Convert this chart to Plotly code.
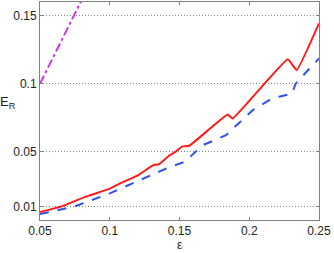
import plotly.graph_objects as go

# Red solid curve
red_eps = [0.05, 0.0655, 0.082, 0.1, 0.1071, 0.1202, 0.1309, 0.1352, 0.1429, 0.1476, 0.1521, 0.157,
           0.1845, 0.1881, 0.2276, 0.234, 0.25]
red_val = [0.0058, 0.010, 0.0168, 0.023, 0.0267, 0.0328, 0.0401, 0.0409, 0.0475, 0.0504, 0.054, 0.0545,
           0.0774, 0.0745, 0.1179, 0.110, 0.1443]

# Blue dashed curve
blue_eps = [0.05, 0.075, 0.1, 0.119, 0.138, 0.1429, 0.1536, 0.1667, 0.1833, 0.2024, 0.2143, 0.2214,
            0.2274, 0.2306, 0.2333, 0.2476, 0.25]
blue_val = [0.0043, 0.010, 0.0195, 0.0279, 0.0365, 0.0389, 0.0426, 0.0549, 0.0622, 0.0806, 0.0879, 0.0905,
            0.092, 0.0925, 0.1002, 0.1161, 0.1186]

# Purple dash-dot line
purple_eps = [0.05, 0.065, 0.085]
purple_val = [0.1, 0.131, 0.172]

x_ticks = [0.05, 0.1, 0.15, 0.2, 0.25]
x_labels = ["0.05", "0.1", "0.15", "0.2", "0.25"]
y_ticks = [0.01, 0.05, 0.1, 0.15]
y_labels = ["0.01", "0.05", "0.1", "0.15"]

fig = go.Figure()
fig.add_trace(go.Scatter(x=purple_eps, y=purple_val, mode="lines",
                         line=dict(color="#c03ce8", width=2, dash="dashdot"), showlegend=False))
fig.add_trace(go.Scatter(x=blue_eps, y=blue_val, mode="lines",
                         line=dict(color="#3050f0", width=2, dash="dash"), showlegend=False))
fig.add_trace(go.Scatter(x=red_eps, y=red_val, mode="lines",
                         line=dict(color="#ff1a1a", width=2, shape="spline", smoothing=0.3),
                         showlegend=False))

axis_common = dict(showline=True, linecolor="#808080", linewidth=1, mirror="ticks",
                   ticks="inside", ticklen=3, tickcolor="#808080", zeroline=False,
                   tickfont=dict(family="Liberation Sans, Arial", size=12, color="#222"))

fig.update_xaxes(range=[0.05, 0.25], tickvals=x_ticks, ticktext=x_labels, showgrid=False,
                 **axis_common)
fig.update_yaxes(range=[0, 0.16], tickvals=y_ticks, ticktext=y_labels, showgrid=True,
                 gridcolor="#888", griddash="1px,2px", gridwidth=1, **axis_common)

fig.add_annotation(text="E<sub>R</sub>", xref="paper", yref="paper", x=-0.115, y=0.54,
                   showarrow=False, xanchor="center", yanchor="middle",
                   font=dict(family="Liberation Sans, Arial", size=13, color="#222"))
fig.add_annotation(text="ε", xref="paper", yref="paper", x=0.5, y=-0.15,
                   showarrow=False, xanchor="center", yanchor="bottom", borderpad=0,
                   font=dict(family="Liberation Sans, Arial", size=12, color="#222"))

fig.update_layout(width=334, height=253, margin=dict(l=40, r=15, t=2, b=33),
                  plot_bgcolor="white", paper_bgcolor="white")

fig.write_html("out.html", config={"displayModeBar": False},
               post_script="document.body.style.margin='0';")
